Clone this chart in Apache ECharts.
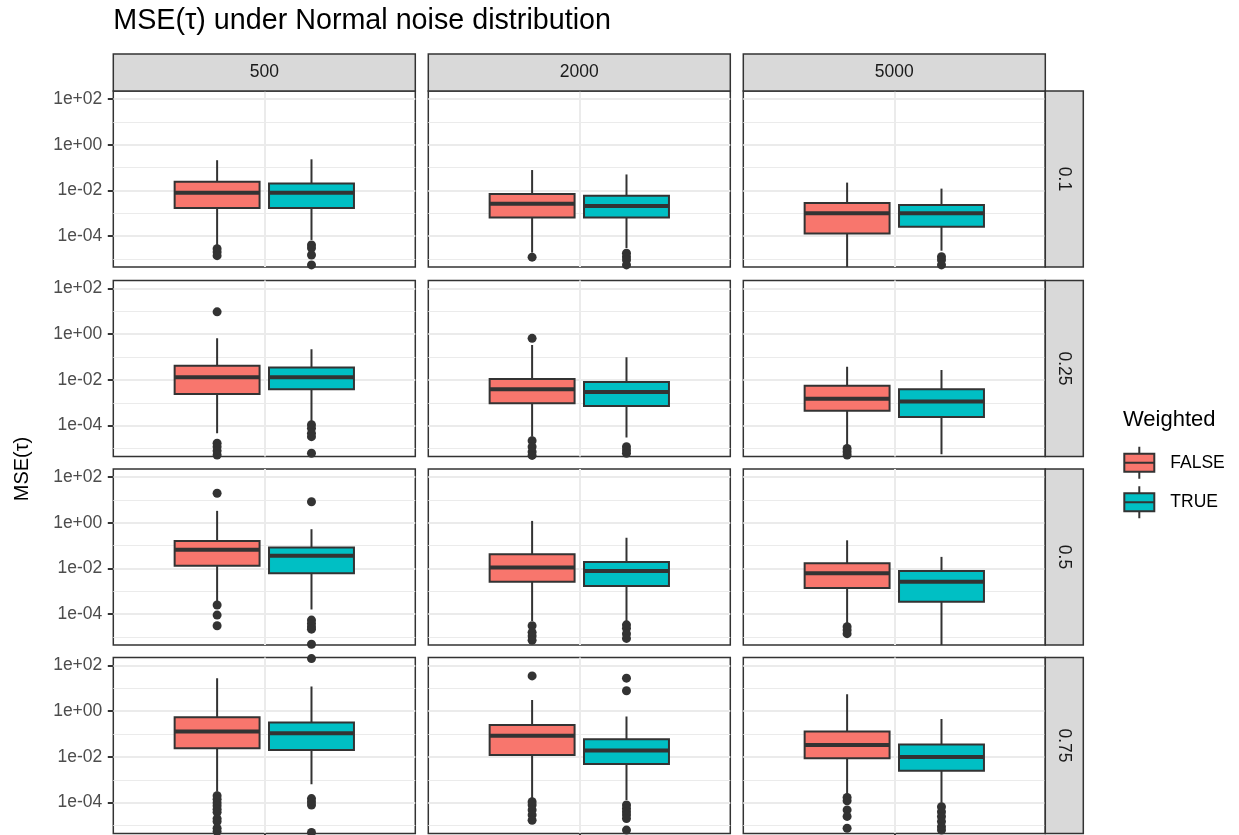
<!DOCTYPE html>
<html>
<head>
<meta charset="utf-8">
<title>MSE(τ) under Normal noise distribution</title>
<script src="https://cdn.jsdelivr.net/npm/echarts@6/dist/echarts.min.js"></script>
<style>
  html, body { margin: 0; padding: 0; background: #ffffff; }
  #chart { width: 1239px; height: 835px; }
</style>
</head>
<body>
<div id="chart"></div>
<script>
// Facets: columns = sample size n, rows = tau
const sampleSizes = ['500', '2000', '5000'];
const tauLevels = ['0.1', '0.25', '0.5', '0.75'];
const weightedLevels = ['FALSE', 'TRUE'];

// Log10 exponents for labelled ticks and for the in-between grid lines
const yTickExponents = [-4, -2, 0, 2];
const yMinorExponents = [-5, -3, -1, 1];

// Box statistics [lower whisker, Q1, median, Q3, upper whisker]; rows = tau, entries = n
const boxFalse = [
  [[4.1e-5, 1.7e-3, 7.9e-3, 2.4e-2, 2.1e-1], [1.9e-5, 6.5e-4, 2.6e-3, 6.9e-3, 7.8e-2], [2.0e-6, 1.3e-4, 1.0e-3, 2.8e-3, 2.2e-2]],
  [[4.6e-5, 2.4e-3, 1.3e-2, 4.2e-2, 6.6e-1], [3.3e-5, 9.5e-4, 3.9e-3, 1.1e-2, 3.4e-1], [1.4e-5, 4.5e-4, 1.5e-3, 5.6e-3, 3.8e-2]],
  [[3.5e-4, 1.3e-2, 6.5e-2, 1.6e-1, 3.3], [5.0e-5, 2.6e-3, 1.1e-2, 4.2e-2, 1.2], [4.0e-5, 1.4e-3, 6.2e-3, 1.7e-2, 1.7e-1]],
  [[3.0e-4, 2.4e-2, 1.3e-1, 5.4e-1, 28], [1.5e-4, 1.2e-2, 8.5e-2, 2.5e-1, 3.1], [2.3e-4, 8.7e-3, 3.3e-2, 1.3e-1, 5.5]]
];
const boxTrue = [
  [[6.8e-5, 1.7e-3, 7.9e-3, 2.0e-2, 2.3e-1], [3.0e-5, 6.5e-4, 2.1e-3, 5.8e-3, 5.0e-2], [2.3e-5, 2.6e-4, 1.0e-3, 2.3e-3, 1.2e-2]],
  [[1.5e-4, 3.9e-3, 1.3e-2, 3.5e-2, 2.2e-1], [3.0e-5, 7.2e-4, 3.0e-3, 8.1e-3, 9.8e-2], [5.6e-6, 2.4e-4, 1.15e-3, 3.9e-3, 2.7e-2]],
  [[1.6e-4, 6.2e-3, 3.6e-2, 8.3e-2, 5.2e-1], [5.0e-5, 1.7e-3, 7.8e-3, 1.9e-2, 2.2e-1], [3.5e-6, 3.5e-4, 2.6e-3, 7.8e-3, 3.2e-2]],
  [[6.3e-4, 2.0e-2, 1.1e-1, 3.2e-1, 12], [1.3e-4, 4.9e-3, 1.9e-2, 5.9e-2, 5.8e-1], [1.0e-4, 2.5e-3, 1.0e-2, 3.5e-2, 4.6e-1]]
];

// Outlying MSE values beyond the whiskers
const outFalse = [
  [[2.8e-5, 2.0e-5, 1.4e-5, 4.0e-6], [1.2e-5], []],
  [[9.5, 1.7e-5, 1.2e-5, 7.9e-6, 5.2e-6], [6.6e-1, 2.2e-5, 1.2e-5, 7.2e-6, 5.0e-6], [1.0e-5, 7.2e-6, 5.2e-6]],
  [[19.5, 2.5e-4, 9.1e-5, 3.1e-5], [3.1e-5, 1.6e-5, 1.1e-5, 7.2e-6], [2.8e-5, 2.0e-5, 1.4e-5]],
  [[2.0e-4, 1.4e-4, 1.0e-4, 7.4e-5, 5.2e-5, 3.8e-5, 2.0e-5, 1.5e-5, 7.6e-6, 5.4e-6], [35, 1.1e-4, 7.9e-5, 4.8e-5, 2.9e-5, 1.7e-5], [1.7e-4, 1.2e-4, 4.8e-5, 2.5e-5, 7.6e-6]]
];
const outTrue = [
  [[4.1e-5, 3.0e-5, 1.5e-5, 5.5e-6], [1.8e-5, 1.26e-5, 9.1e-6, 5.5e-6], [1.26e-5, 9.1e-6, 5.5e-6]],
  [[1.1e-4, 7.6e-5, 4.6e-5, 3.3e-5, 6.2e-6], [1.2e-5, 8.5e-6, 6.2e-6], [3.8e-6]],
  [[8.3, 5.5e-5, 3.9e-5, 2.8e-5, 2.2e-5, 4.8e-6], [3.4e-5, 2.4e-5, 1.4e-5, 8.7e-6], []],
  [[200, 1.5e-4, 1.1e-4, 7.9e-5, 5.0e-6], [28, 7.9, 7.9e-5, 5.6e-5, 4.0e-5, 2.9e-5, 2.0e-5, 6.3e-6], [6.6e-5, 4.0e-5, 2.5e-5, 1.5e-5, 8.9e-6, 6.3e-6]]
];

// ---- styling / layout ----
const FONT = '"Liberation Sans", Arial, Helvetica, sans-serif';
const INK = '#333333';
const GRID_COLOR = '#ebebeb';
const FILLS = ['#F8766D', '#00BFC4'];

const PANEL_LEFT = [113.3, 428.3, 743.3];
const PANEL_TOP = [91, 280.5, 469, 657.5];
const PANEL_W = 302;
const PANEL_H = 176;
const STRIP_TOP = 54;
const STRIP_RIGHT_W = 38;

// log10 range shown in every panel, and the dodged box geometry on the x scale
const Y_MIN = -5.35, Y_MAX = 2.35;
const X_MIN = 0.4, X_MAX = 1.6;
const DODGE = 0.375;
const BOX_WIDTH = DODGE * 0.9;

function expLabel(v) {
  const e = Math.round(v);
  return '1e' + (e < 0 ? '-' : '+') + String(Math.abs(e)).padStart(2, '0');
}

function renderBox(params, api) {
  const x = api.value(0);
  const lo = api.coord([x, api.value(1)]);
  const q1 = api.coord([x, api.value(2)]);
  const md = api.coord([x, api.value(3)]);
  const q3 = api.coord([x, api.value(4)]);
  const hi = api.coord([x, api.value(5)]);
  const w = api.size([BOX_WIDTH, 0])[0];
  const cx = q1[0];
  const fill = api.visual('color');
  return {
    type: 'group',
    children: [
      { type: 'line', shape: { x1: cx, y1: q3[1], x2: cx, y2: hi[1] }, style: { stroke: INK, lineWidth: 2 } },
      { type: 'line', shape: { x1: cx, y1: q1[1], x2: cx, y2: lo[1] }, style: { stroke: INK, lineWidth: 2 } },
      { type: 'rect', shape: { x: cx - w / 2, y: q3[1], width: w, height: q1[1] - q3[1] }, style: { fill: fill, stroke: INK, lineWidth: 2 } },
      { type: 'line', shape: { x1: cx - w / 2, y1: md[1], x2: cx + w / 2, y2: md[1] }, style: { stroke: INK, lineWidth: 4 } }
    ]
  };
}

const grids = [], xAxes = [], yAxes = [], series = [];
const boxSets = [boxFalse, boxTrue];
const outSets = [outFalse, outTrue];

tauLevels.forEach((tau, r) => {
  sampleSizes.forEach((n, c) => {
    const gi = r * sampleSizes.length + c;
    grids.push({
      left: PANEL_LEFT[c], top: PANEL_TOP[r], width: PANEL_W, height: PANEL_H,
      show: true, backgroundColor: '#ffffff', borderColor: INK, borderWidth: 1.5,
      containLabel: false, outerBoundsMode: 'none'
    });
    xAxes.push({
      gridIndex: gi, type: 'value', min: X_MIN, max: X_MAX, position: 'bottom',
      axisLine: { show: false, onZero: false },
      axisLabel: { show: false },
      axisTick: { show: r === tauLevels.length - 1, customValues: [1], length: 5.5, lineStyle: { color: INK, width: 2 } },
      splitLine: { show: true, lineStyle: { color: GRID_COLOR, width: 2 } }
    });
    // in-between grid lines
    yAxes.push({
      gridIndex: gi, type: 'value', min: Y_MIN, max: Y_MAX, position: 'right',
      axisLine: { show: false, onZero: false }, axisLabel: { show: false },
      axisTick: { show: false, customValues: yMinorExponents },
      splitLine: { show: true, lineStyle: { color: GRID_COLOR, width: 1 } }
    });
    // labelled ticks
    yAxes.push({
      gridIndex: gi, type: 'value', min: Y_MIN, max: Y_MAX, position: 'left',
      axisLine: { show: false, onZero: false },
      axisTick: { show: c === 0, customValues: yTickExponents, length: 5.5, lineStyle: { color: INK, width: 2 } },
      axisLabel: {
        show: c === 0, customValues: yTickExponents, formatter: expLabel,
        color: '#4d4d4d', fontSize: 17.5, fontFamily: FONT, margin: 11
      },
      splitLine: { show: true, lineStyle: { color: GRID_COLOR, width: 2 } }
    });

    weightedLevels.forEach((level, g) => {
      const x = 1 + (g - 0.5) * DODGE;
      const s = boxSets[g][r][c];
      series.push({
        type: 'custom', name: level, coordinateSystem: 'cartesian2d',
        xAxisIndex: gi, yAxisIndex: gi * 2 + 1, clip: true, silent: true, z: 3,
        itemStyle: { color: FILLS[g] },
        renderItem: renderBox,
        encode: { x: 0, y: [1, 2, 3, 4, 5] },
        data: [[x].concat(s.map(Math.log10))]
      });
      series.push({
        type: 'scatter', name: level + ' outliers',
        xAxisIndex: gi, yAxisIndex: gi * 2 + 1, clip: true, silent: true, z: 4,
        symbol: 'circle', symbolSize: 9,
        itemStyle: { color: INK, opacity: 1 },
        data: outSets[g][r][c].map(v => [x, Math.log10(v)])
      });
    });
  });
});

// Facet strips, titles and legend heading
const graphics = [];
sampleSizes.forEach((n, c) => {
  graphics.push({
    type: 'rect', z: 10,
    shape: { x: PANEL_LEFT[c], y: STRIP_TOP, width: PANEL_W, height: PANEL_TOP[0] - STRIP_TOP },
    style: { fill: '#d9d9d9', stroke: INK, lineWidth: 1.5 }
  });
  graphics.push({
    type: 'text', z: 11,
    x: PANEL_LEFT[c] + PANEL_W / 2, y: (STRIP_TOP + PANEL_TOP[0]) / 2,
    style: { text: n, fill: '#1a1a1a', fontSize: 17.5, fontFamily: FONT, align: 'center', verticalAlign: 'middle' }
  });
});
const stripX = PANEL_LEFT[2] + PANEL_W;
tauLevels.forEach((tau, r) => {
  graphics.push({
    type: 'rect', z: 10,
    shape: { x: stripX, y: PANEL_TOP[r], width: STRIP_RIGHT_W, height: PANEL_H },
    style: { fill: '#d9d9d9', stroke: INK, lineWidth: 1.5 }
  });
  graphics.push({
    type: 'text', z: 11,
    x: stripX + STRIP_RIGHT_W / 2, y: PANEL_TOP[r] + PANEL_H / 2, rotation: -Math.PI / 2,
    style: { text: tau, fill: '#1a1a1a', fontSize: 17.5, fontFamily: FONT, align: 'center', verticalAlign: 'middle' }
  });
});
graphics.push({
  type: 'text', z: 11, x: PANEL_LEFT[0], y: 21,
  style: { text: 'MSE(τ) under Normal noise distribution', fill: '#000000', fontSize: 28.7, fontFamily: FONT, align: 'left', verticalAlign: 'middle' }
});
graphics.push({
  type: 'text', z: 11, x: 22, y: 469, rotation: Math.PI / 2,
  style: { text: 'MSE(τ)', fill: '#000000', fontSize: 20, fontFamily: FONT, align: 'center', verticalAlign: 'middle' }
});
graphics.push({
  type: 'text', z: 11, x: 1123, y: 420,
  style: { text: 'Weighted', fill: '#000000', fontSize: 22, fontFamily: FONT, align: 'left', verticalAlign: 'middle' }
});

// Legend key: box with median and whiskers
const BOX_ICON = 'path://M15,0L15,7M0,7L30,7L30,25L0,25ZM0,16L30,16M15,25L15,32';

const chart = echarts.init(document.getElementById('chart'), null, { renderer: 'canvas' });
chart.setOption({
  backgroundColor: '#ffffff',
  animation: false,
  textStyle: { fontFamily: FONT },
  grid: grids,
  xAxis: xAxes,
  yAxis: yAxes,
  legend: {
    data: weightedLevels.map(name => ({ name: name, icon: BOX_ICON })),
    orient: 'vertical', left: 1123.3, top: 445.7, padding: 0,
    itemWidth: 30, itemHeight: 32, itemGap: 5.6, selectedMode: false,
    itemStyle: { borderColor: INK, borderWidth: 2 },
    textStyle: { fontSize: 17.5, fontFamily: FONT, color: '#000000', padding: [0, 0, 0, 11] }
  },
  graphic: { elements: graphics },
  series: series
});
</script>
</body>
</html>
